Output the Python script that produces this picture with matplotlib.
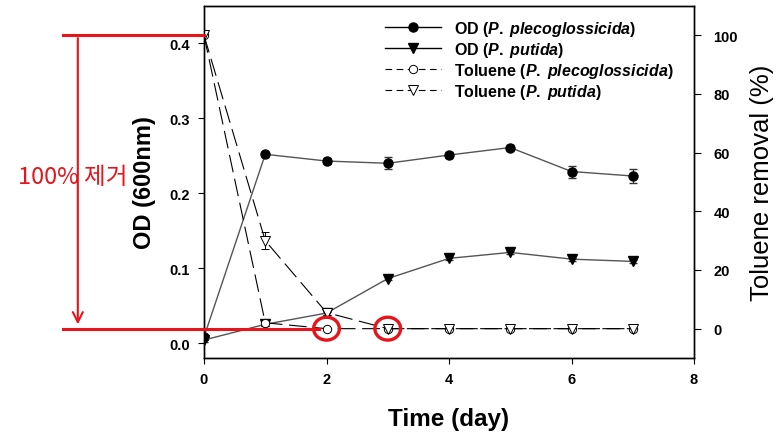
import matplotlib
matplotlib.use("Agg")
import matplotlib.pyplot as plt
from matplotlib.patches import Ellipse
from matplotlib.lines import Line2D

plt.rcParams['font.family'] = ['Liberation Sans', 'DejaVu Sans']
plt.rcParams['mathtext.fontset'] = 'custom'
plt.rcParams['mathtext.it'] = 'Liberation Sans:italic:bold'
plt.rcParams['mathtext.rm'] = 'Liberation Sans:bold'

days = [0, 1, 2, 3, 4, 5, 6, 7]
od_pleco = [0.008, 0.252, 0.243, 0.240, 0.251, 0.261, 0.229, 0.223]
od_pleco_err = [0.003, 0.003, 0.004, 0.008, 0.004, 0.003, 0.008, 0.010]
od_putida = [0.004, 0.025, 0.040, 0.086, 0.113, 0.121, 0.112, 0.109]
od_putida_err = [0.002, 0.002, 0.002, 0.002, 0.002, 0.002, 0.002, 0.002]
tol_pleco = [100, 2, 0, 0, 0, 0, 0, 0]
tol_pleco_err = [0, 1, 0, 0, 0, 0, 0, 0]
tol_putida = [100, 30, 5.5, 0, 0, 0, 0, 0]
tol_putida_err = [0, 3, 1, 0, 0, 0, 0, 0]

labels = [r'OD ($\it{P.\;plecoglossicida}$)', r'OD ($\it{P.\;putida}$)',
          r'Toluene ($\it{P.\;plecoglossicida}$)', r'Toluene ($\it{P.\;putida}$)']
annot_text = '100% 제거'

W, H = 782, 439
fig = plt.figure(figsize=(W / 100, H / 100), dpi=100)
ax = fig.add_axes([204 / W, 1 - 359 / H, (694 - 204) / W, (359 - 7) / H])
ax2 = ax.twinx()

gray = '#555555'
dash = (0, (16, 6))
ax.errorbar(days, od_pleco, yerr=od_pleco_err, color=gray, lw=1.0, marker='o',
            ms=6.5, mfc='black', mec='black', ecolor='#333333', elinewidth=0.8, capsize=3)
ax.errorbar(days, od_putida, yerr=od_putida_err, color=gray, lw=1.0, marker='v',
            ms=6.5, mfc='black', mec='black', ecolor='#333333', elinewidth=0.8, capsize=3)
ax2.errorbar(days, tol_pleco, yerr=tol_pleco_err, color='black', lw=0.8, ls=dash,
             marker='o', ms=6, mfc='white', mec='black', mew=0.7,
             ecolor='black', elinewidth=0.7, capsize=3)
ax2.errorbar(days, tol_putida, yerr=tol_putida_err, color='black', lw=0.8, ls=dash,
             marker='v', ms=6.5, mfc='white', mec='black', mew=0.7,
             ecolor='black', elinewidth=0.7, capsize=3)

handles = [
    Line2D([], [], color='black', lw=1.0, marker='o', ms=6.5, mfc='black', mec='black'),
    Line2D([], [], color='black', lw=1.0, marker='v', ms=6.5, mfc='black', mec='black'),
    Line2D([], [], color='black', lw=0.8, ls=(0, (6, 4)), marker='o', ms=6, mfc='white',
           mec='black', mew=0.7),
    Line2D([], [], color='black', lw=0.8, ls=(0, (6, 4)), marker='v', ms=6.5, mfc='white',
           mec='black', mew=0.7),
]

ax.set_xlim(0, 8)
ax.set_ylim(-0.02, 0.45)
ax2.set_ylim(-10, 110)
ax.set_xticks([0, 2, 4, 6, 8])
ax.set_yticks([0.0, 0.1, 0.2, 0.3, 0.4])
ax.set_yticklabels(['0.0', '0.1', '0.2', '0.3', '0.4'])
ax2.set_yticks([0, 20, 40, 60, 80, 100])

ax.tick_params(direction='out', length=4, width=0.8, labelsize=10.5, pad=6)
ax2.tick_params(direction='out', length=5, width=0.8, labelsize=10.5, pad=9)
for a in (ax, ax2):
    for t in a.get_xticklabels() + a.get_yticklabels():
        t.set_fontweight('bold')
    for s in a.spines.values():
        s.set_linewidth(1.0)

ax.set_xlabel('Time (day)', fontsize=17.5, fontweight='bold', labelpad=15)
ax.set_ylabel('OD (600nm)', fontsize=17, fontweight='bold', labelpad=10)
ax2.set_ylabel('Toluene removal (%)', fontsize=18.5, labelpad=9)

ax2.legend(handles, labels, loc='upper left', frameon=False,
           bbox_to_anchor=(385 / W, 1 - 20 / H), bbox_transform=fig.transFigure,
           borderaxespad=0, borderpad=0, handlelength=3.5, handletextpad=0.8,
           labelspacing=0.12, numpoints=1, prop={'weight': 'bold', 'size': 11.5})

# red annotation
red = '#e8141c'
ax2.plot([-2.30, 0], [100, 100], color=red, lw=2.2, clip_on=False, zorder=10)
ax2.plot([-2.30, 1.88], [0, 0], color=red, lw=2.2, clip_on=False, zorder=10)
ax2.annotate('', xy=(-2.06, 0.5), xytext=(-2.06, 100),
             arrowprops=dict(arrowstyle='->', color=red, lw=1.5, mutation_scale=18),
             annotation_clip=False)
ax2.text(-2.14, 52, annot_text, color=red, fontsize=17, ha='center', va='center',
         family=['Noto Sans CJK KR', 'DejaVu Sans'], clip_on=False)
for xc in (2, 3):
    ax2.add_patch(Ellipse((xc, 0), 0.42, 7.8, fill=False, ec=red, lw=2.4, zorder=11))

fig.savefig('out.png', dpi=100)
